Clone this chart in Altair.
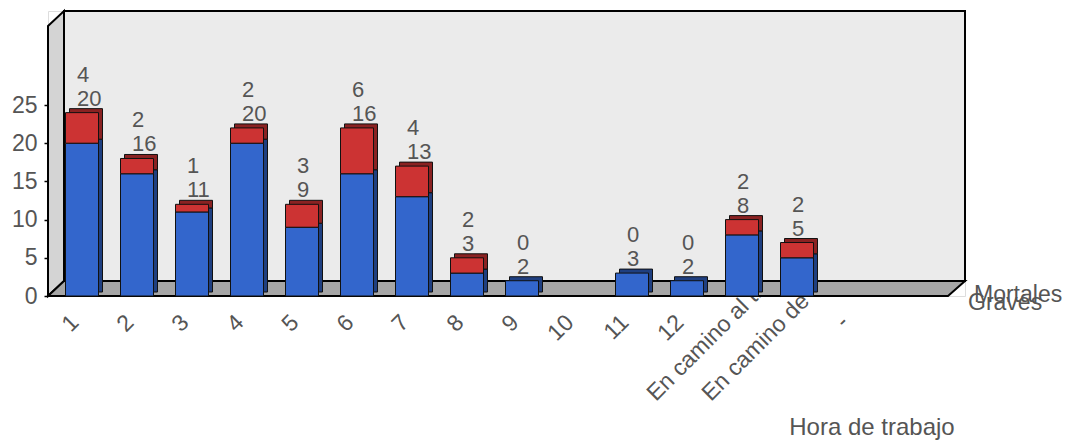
import altair as alt
import pandas as pd

# ---- data ----
categorias = ["1", "2", "3", "4", "5", "6", "7", "8", "9", "10", "11", "12",
              "En camino al trabajo", "En camino de vuelta", "-"]
graves = [20, 16, 11, 20, 9, 16, 13, 3, 2, None, 3, 2, 8, 5, None]
mortales = [4, 2, 1, 2, 3, 6, 4, 2, 0, None, 0, 0, 2, 2, None]
series = ["Graves", "Mortales"]
colores_frente = ["#3366cc", "#cc3333"]
colores_lado = ["#1f3f80", "#8a2222"]
y_ticks = [0, 5, 10, 15, 20, 25]
titulo_x = "Hora de trabajo"

FONT = "Liberation Sans"
TXT = "#555555"
W, H = 917, 285          # plot area (front floor edge to back wall)
DX, DY = 16, 15          # 3D depth of the box
YMAX = H / 7.64

# long table for the stacked bars
rows = []
for c, g, m in zip(categorias, graves, mortales):
    if g is not None and g > 0:
        rows.append({"cat": c, "serie": "Graves", "valor": g, "ord": 0,
                     "fc": colores_frente[0], "sc": colores_lado[0]})
    if m is not None and m > 0:
        rows.append({"cat": c, "serie": "Mortales", "valor": m, "ord": 1,
                     "fc": colores_frente[1], "sc": colores_lado[1]})
bars = pd.DataFrame(rows)

lab = pd.DataFrame([
    {"cat": c, "g": str(g), "m": str(m), "total": g + m}
    for c, g, m in zip(categorias, graves, mortales) if g is not None
])

cats_df = pd.DataFrame({"cat": categorias,
                        "largo": [len(c) > 3 for c in categorias]})

xscale = alt.Scale(domain=categorias, range=[6.5, 831.5],
                   paddingInner=0.4, paddingOuter=0.2)
yscale = alt.Scale(domain=[0, YMAX], nice=False, zero=True)
X = alt.X("cat:N", scale=xscale, axis=None, sort=categorias)

# ---- box (back wall, left wall, floor) ----
back = alt.Chart(pd.DataFrame({"a": [0]})).mark_rect(
    fill="#ebebeb", stroke="black", strokeWidth=2
).encode(x=alt.value(DX), x2=alt.value(W), y=alt.value(0), y2=alt.value(H - DY))

left_wall = alt.Chart(pd.DataFrame({
    "px": [0, DX], "top": [DY, 0], "bot": [H, H - DY]
})).mark_area(fill="#d4d4d4", stroke="black", strokeWidth=2, interpolate="linear").encode(
    x=alt.X("px:Q", scale=None, axis=None),
    y=alt.Y("top:Q", scale=None, axis=None),
    y2="bot:Q",
)

floor = alt.Chart(pd.DataFrame({
    "px": [0, DX, W - DX - 1, W], "top": [H, H - DY, H - DY, H - DY],
    "bot": [H, H, H, H - DY]
})).mark_area(fill="#a6a6a6", stroke="black", strokeWidth=2, interpolate="linear").encode(
    x=alt.X("px:Q", scale=None, axis=None),
    y=alt.Y("top:Q", scale=None, axis=None),
    y2="bot:Q",
)

# ---- x labels (drawn first so the box covers long ones) ----
xl_short = alt.Chart(cats_df).transform_filter("!datum.largo").mark_text(
    angle=315, align="right", baseline="middle", font=FONT, fontSize=23,
    color=TXT, xOffset=-7
).encode(x=X, y=alt.value(308), text="cat:N")

xl_long = alt.Chart(cats_df).transform_filter("datum.largo").mark_text(
    angle=315, align="left", baseline="alphabetic", font=FONT, fontSize=23,
    color=TXT, xOffset=-86
).encode(x=X, y=alt.value(391), text="cat:N")

# ---- bars ----
Y = alt.Y("valor:Q", stack="zero", scale=yscale,
          axis=alt.Axis(values=y_ticks, domain=False, grid=False, tickColor="black",
                        tickSize=4, tickWidth=1.5, labelFont=FONT, labelFontSize=23,
                        labelColor=TXT, labelPadding=7, title=None))

side = alt.Chart(bars).mark_bar(
    xOffset=4, x2Offset=4, yOffset=-4, y2Offset=-4, stroke="#111111", strokeWidth=1
).encode(x=X, y=Y, fill=alt.Fill("sc:N", scale=None), order=alt.Order("ord:Q"))

front = alt.Chart(bars).mark_bar(stroke="#111111", strokeWidth=1).encode(
    x=X, y=Y, fill=alt.Fill("fc:N", scale=None), order=alt.Order("ord:Q"))

# ---- value labels ----
lab_g = alt.Chart(lab).mark_text(
    align="left", baseline="middle", dx=-5, dy=-14, font=FONT, fontSize=22, color=TXT
).encode(x=X, y=alt.Y("total:Q", scale=yscale), text="g:N")
lab_m = alt.Chart(lab).mark_text(
    align="left", baseline="middle", dx=-5, dy=-38, font=FONT, fontSize=22, color=TXT
).encode(x=X, y=alt.Y("total:Q", scale=yscale), text="m:N")

# ---- legend texts (overlapping, as in the reference) and axis title ----
leg_df = pd.DataFrame({"serie": series})
leg_g = alt.Chart(leg_df).transform_filter("datum.serie == 'Graves'").mark_text(
    align="left", baseline="alphabetic", font=FONT, fontSize=23, color=TXT
).encode(x=alt.value(920), y=alt.value(299), text="serie:N")
leg_m = alt.Chart(leg_df).transform_filter("datum.serie == 'Mortales'").mark_text(
    align="left", baseline="alphabetic", font=FONT, fontSize=23, color=TXT
).encode(x=alt.value(926), y=alt.value(291), text="serie:N")

title_df = pd.DataFrame({"t": [titulo_x]})
title = alt.Chart(title_df).mark_text(
    align="center", baseline="alphabetic", font=FONT, fontSize=24, color=TXT
).encode(x=alt.value(824), y=alt.value(424), text="t:N")

chart = alt.layer(
    xl_short, xl_long, back, left_wall, floor, side, front, lab_g, lab_m,
    leg_g, leg_m, title
).properties(
    width=W, height=H,
    padding={"left": 40, "top": 3, "right": 99, "bottom": 145},
    autosize=alt.AutoSizeParams(type="none"),
).configure_view(stroke=None).configure(font=FONT)

chart.save("out.html", embed_options={"renderer": "svg", "actions": False})
